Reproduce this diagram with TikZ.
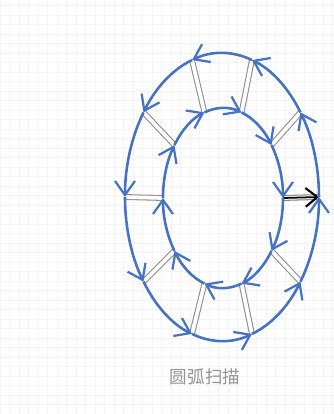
\documentclass[tikz,border=0pt]{standalone}
\usepackage{fontspec}
\newfontfamily\cjk{Noto Sans CJK SC}
\usetikzlibrary{arrows.meta,calc}
\definecolor{arcblue}{RGB}{70,114,196}
\definecolor{runggray}{RGB}{140,140,140}

\begin{document}
\begin{tikzpicture}[scale=0.03,
  outerarc/.style={arcblue, line width=2.2pt, -{Straight Barb[length=12pt,width=17pt,line width=1.9pt]}},
  innerarc/.style={arcblue, line width=2.2pt, -{Straight Barb[length=12pt,width=17pt,line width=1.9pt]}},
  rung/.style={draw=runggray, double=white, double distance=3.2pt, line width=0.9pt}]
\useasboundingbox (0,0) rectangle (334,414);
% Faint background grid
\draw[gray!9, line width=0.4pt, step=9.5] (0,0) grid (334,414);
% Rung end points on both ellipses
\foreach \a in {0,36,...,324} {
  \coordinate (o\a) at ($(222,217)+(\a:97 and 144)$);
  \coordinate (i\a) at ($(223,216)+(\a:60 and 90)$);
}
% Rungs between the ellipses
\foreach \a in {36,72,...,324} {\draw[rung] (i\a) -- (o\a);}
\draw[rung, draw=black!50] (i0) -- (o0);
\draw[black, line width=1.5pt, -{Straight Barb[length=10pt,width=16pt,line width=1.8pt]}] (i0) -- (o0);
% Outer ellipse, counterclockwise
\foreach \a in {0,36,...,324} {
  \draw[outerarc] (o\a) arc[start angle=\a, delta angle=36, x radius=97, y radius=144];
}
% Inner ellipse, clockwise
\foreach \a in {36,72,...,360} {
  \pgfmathtruncatemacro{\b}{mod(\a,360)}
  \draw[innerarc] (i\b) arc[start angle=\a, delta angle=-36, x radius=60, y radius=90];
}
% Caption
\node[font=\cjk\fontsize{15}{15}\selectfont, text=gray!85] (cap) at (205,37) {圆弧扫描};
\end{tikzpicture}
\end{document}
